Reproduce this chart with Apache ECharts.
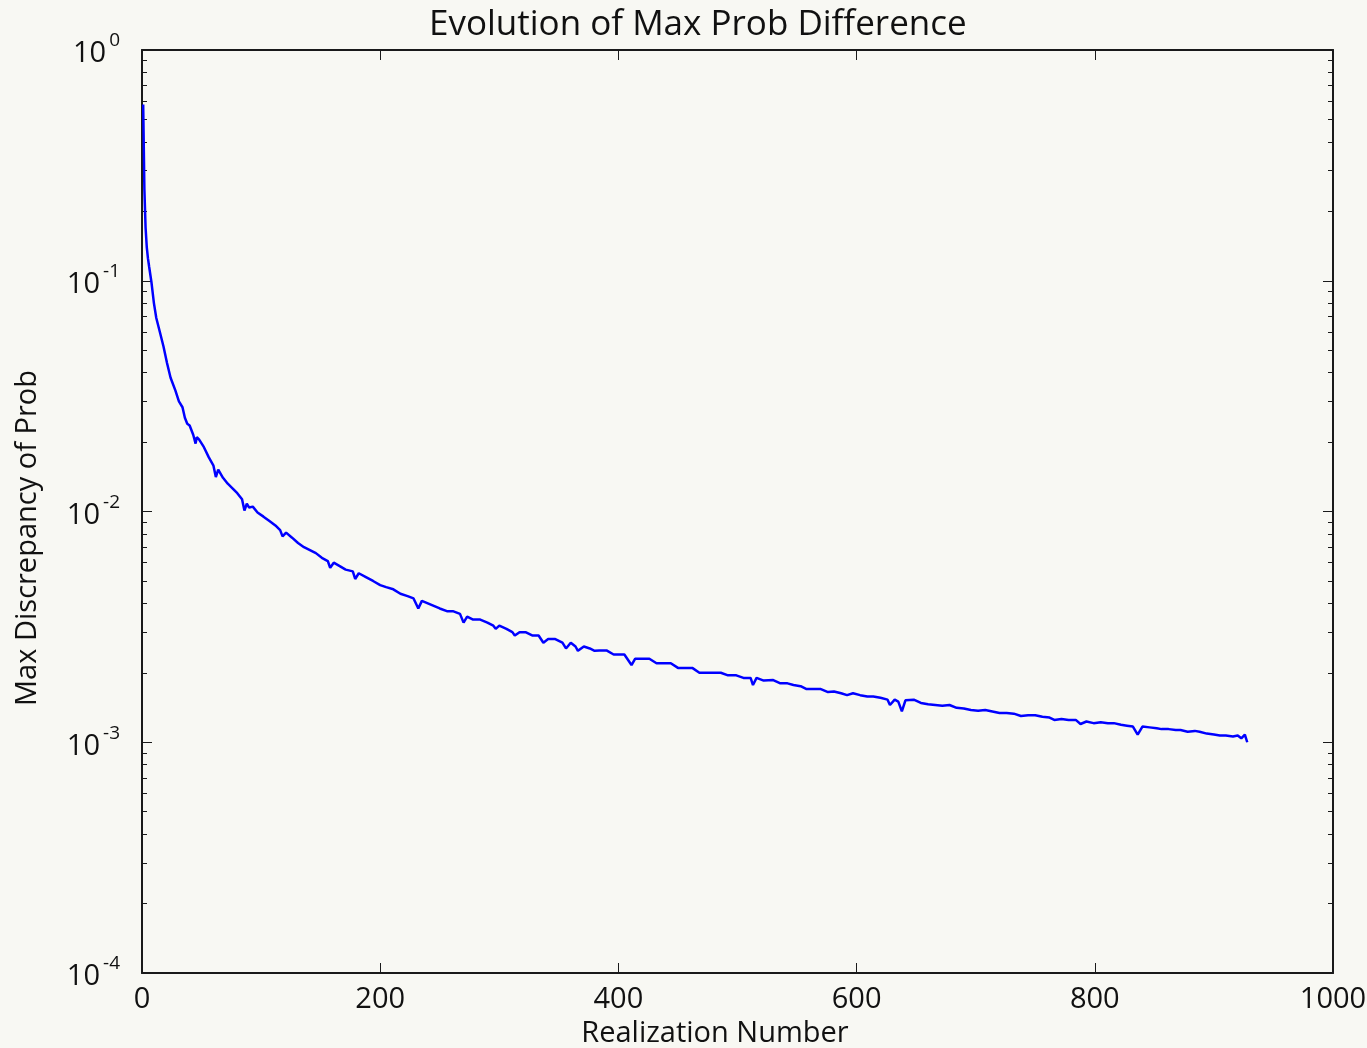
<!DOCTYPE html>
<html>
<head>
<meta charset="utf-8">
<title>Evolution of Max Prob Difference</title>
<script src="https://cdn.jsdelivr.net/npm/echarts@6/dist/echarts.min.js"></script>
<style>
html, body {
  margin: 0;
  padding: 0;
  background: #f8f8f3;
}
#chart {
  width: 1367px;
  height: 1048px;
}
</style>
</head>
<body>
<div id="chart"></div>
<script>
// realization number and max discrepancy
const realizations = [
  1, 2, 3, 4, 5, 6, 8, 10, 12, 15, 18, 21, 24, 28, 31, 34, 36, 38, 40, 43,
  45, 46, 48, 52, 56, 60, 62, 64, 68, 72, 76, 80, 84, 86, 88, 90, 93, 97, 102, 107,
  112, 116, 118, 121, 126, 131, 136, 141, 146, 151, 156, 158, 161, 166, 171, 177, 179, 182, 188, 194,
  200, 205, 211, 217, 223, 228, 232, 235, 240, 245, 250, 256, 261, 267, 270, 273, 278, 284, 290, 295,
  297, 300, 306, 311, 313, 317, 322, 328, 333, 337, 341, 347, 353, 356, 360, 364, 366, 371, 376, 380,
  384, 390, 396, 401, 405, 411, 414, 420, 426, 432, 438, 444, 450, 456, 462, 468, 474, 480, 486, 492,
  499, 505, 511, 513, 516, 522, 530, 536, 542, 547, 553, 558, 564, 570, 576, 581, 587, 592, 597, 603,
  609, 614, 620, 626, 628, 632, 635, 638, 641, 648, 654, 660, 666, 672, 678, 684, 690, 696, 702, 708,
  714, 720, 726, 732, 738, 744, 750, 756, 762, 766, 772, 778, 784, 788, 793, 799, 805, 811, 816, 822,
  827, 832, 836, 840, 846, 852, 856, 862, 868, 872, 878, 884, 888, 894, 900, 905, 910, 916, 920, 923,
  926, 928
]
const maxDiscrepancy = [
  0.58, 0.25, 0.17, 0.14, 0.125, 0.115, 0.098, 0.080, 0.069, 0.060, 0.052, 0.044, 0.038, 0.0335, 0.030, 0.0283, 0.0255, 0.0240, 0.0236, 0.0215,
  0.0197, 0.0210, 0.0205, 0.0190, 0.0172, 0.0158, 0.0141, 0.0152, 0.0140, 0.0132, 0.0126, 0.0120, 0.0113, 0.0101, 0.0108, 0.0104, 0.0105, 0.0099, 0.0095, 0.0091,
  0.0087, 0.0083, 0.0078, 0.0081, 0.0077, 0.0073, 0.0070, 0.0068, 0.0066, 0.0063, 0.0061, 0.0057, 0.0060, 0.0058, 0.0056, 0.0055, 0.0051, 0.0054, 0.0052, 0.0050,
  0.0048, 0.0047, 0.0046, 0.0044, 0.0043, 0.0042, 0.0038, 0.0041, 0.0040, 0.0039, 0.0038, 0.0037, 0.0037, 0.0036, 0.0033, 0.0035, 0.0034, 0.0034, 0.0033, 0.0032,
  0.0031, 0.0032, 0.0031, 0.0030, 0.0029, 0.0030, 0.0030, 0.0029, 0.0029, 0.0027, 0.0028, 0.0028, 0.0027, 0.00255, 0.0027, 0.0026, 0.00249, 0.0026, 0.00255, 0.00249,
  0.0025, 0.0025, 0.0024, 0.0024, 0.0024, 0.00216, 0.0023, 0.0023, 0.0023, 0.0022, 0.0022, 0.0022, 0.0021, 0.0021, 0.0021, 0.0020, 0.0020, 0.0020, 0.0020, 0.00195,
  0.00195, 0.0019, 0.0019, 0.00177, 0.0019, 0.00185, 0.00186, 0.0018, 0.0018, 0.00177, 0.00175, 0.0017, 0.0017, 0.0017, 0.00165, 0.00166, 0.00163, 0.0016, 0.00163, 0.0016,
  0.00158, 0.00158, 0.00156, 0.00153, 0.00145, 0.00153, 0.0015, 0.00136, 0.00152, 0.00153, 0.00148, 0.00146, 0.00145, 0.00144, 0.00145, 0.00141, 0.0014, 0.00138, 0.00137, 0.00138,
  0.00136, 0.00134, 0.00134, 0.00133, 0.0013, 0.00131, 0.00131, 0.00129, 0.00128, 0.00125, 0.00126, 0.00125, 0.00125, 0.0012, 0.00123, 0.00121, 0.00122, 0.00121, 0.00121, 0.00119,
  0.00118, 0.00117, 0.00108, 0.00117, 0.00116, 0.00115, 0.00114, 0.00114, 0.00113, 0.00113, 0.00111, 0.00112, 0.00111, 0.00109, 0.00108, 0.00107, 0.00107, 0.00106, 0.00107, 0.00104,
  0.00108, 0.001
]
// log ticks: decades get labels, 2..9 get small ticks
const majorTicks = [1e-4, 1e-3, 1e-2, 1e-1, 1]
const minorTicks = []
for (let e = -4; e < 0; e++) {
  for (let m = 2; m <= 9; m++) minorTicks.push(m * Math.pow(10, e))
}

const font = '"Open Sans", "DejaVu Sans", sans-serif'
const frame = '#1a1a1a'

const seriesData = realizations.map((r, i) => [r, maxDiscrepancy[i]])

const logAxis = (pos, ticks, len, showLine, showLabel) => ({
  type: 'log',
  logBase: 10,
  min: 1e-4,
  max: 1,
  position: pos,
  axisLine: { show: showLine, onZero: false, lineStyle: { color: frame, width: 2 } },
  axisTick: { show: true, inside: true, length: len, customValues: ticks, lineStyle: { color: frame, width: 1 } },
  axisLabel: {
    show: showLabel,
    customValues: ticks,
    margin: 22,
    formatter: v => '{b|10}{s|' + Math.round(Math.log10(v)) + '}',
    rich: {
      b: { fontFamily: font, fontSize: 29, color: '#111', padding: [8, 0, 0, 0] },
      s: { fontFamily: font, fontSize: 19, color: '#111', padding: [0, 0, 18, 3] }
    }
  },
  splitLine: { show: false }
})

const xAxisCfg = (pos, showLabel) => ({
  type: 'value',
  min: 0,
  max: 1000,
  interval: 200,
  position: pos,
  axisLine: { show: true, onZero: false, lineStyle: { color: frame, width: 2 } },
  axisTick: { show: true, inside: true, length: 10, lineStyle: { color: frame, width: 1 } },
  axisLabel: { show: showLabel, margin: 12, fontFamily: font, fontSize: 29, color: '#111', formatter: v => String(v) },
  splitLine: { show: false }
})

const myChart = echarts.init(document.getElementById('chart'))
const options = {
  backgroundColor: '#f8f8f3',
  animation: false,
  title: {
    text: 'Evolution of Max Prob Difference',
    left: 424,
    top: 3,
    textStyle: { fontFamily: font, fontSize: 35, fontWeight: 'normal', color: '#111' }
  },
  grid: { left: 142, right: 34, top: 50, bottom: 75, containLabel: false, outerBoundsMode: 'none' },
  xAxis: [xAxisCfg('bottom', true), xAxisCfg('top', false)],
  yAxis: [
    logAxis('left', majorTicks, 10, true, true),
    logAxis('right', majorTicks, 10, true, false),
    logAxis('left', minorTicks, 5, false, false),
    logAxis('right', minorTicks, 5, false, false)
  ],
  graphic: [
    {
      type: 'text',
      x: 715,
      y: 1034,
      style: { text: 'Realization Number', font: '29px ' + font, fill: '#111', textAlign: 'center', textVerticalAlign: 'middle' }
    },
    {
      type: 'text',
      x: 28,
      y: 538,
      rotation: Math.PI / 2,
      style: { text: 'Max Discrepancy of Prob', font: '29px ' + font, fill: '#111', textAlign: 'center', textVerticalAlign: 'middle' }
    }
  ],
  series: [
    {
      name: 'Max Discrepancy',
      type: 'line',
      data: seriesData,
      showSymbol: false,
      lineStyle: { color: '#0000ff', width: 2.5 },
      itemStyle: { color: '#0000ff' }
    }
  ]
}
myChart.setOption(options)
</script>
</body>
</html>
